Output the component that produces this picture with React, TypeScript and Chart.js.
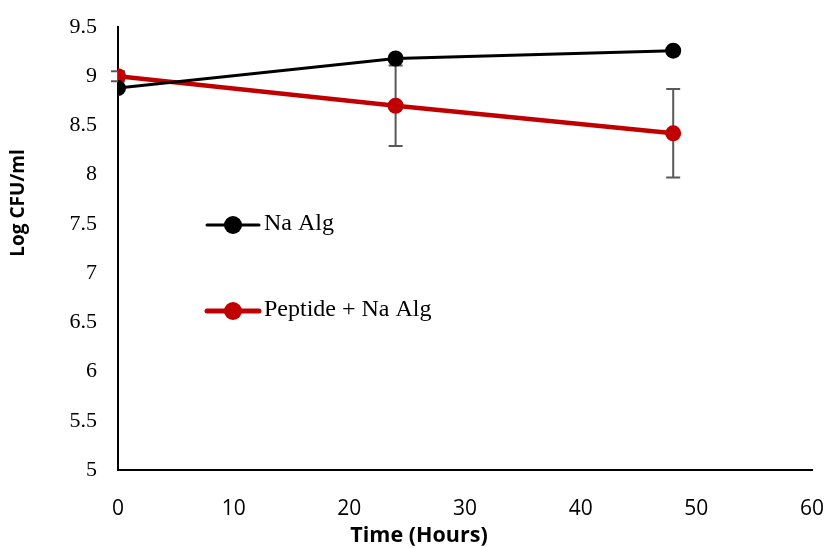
import React, { useEffect, useRef } from "react";
import { Chart, registerables } from "chart.js";

Chart.register(...registerables);

const hours = [0, 24, 48];
const naAlg = [8.88, 9.18, 9.26];
const naAlgErr = [0, 0, 0];
const peptide = [9.0, 8.7, 8.42];
const peptideErr = [0.05, 0.41, 0.45];
const seriesLabels = ["Na Alg", "Peptide + Na Alg"];
const seriesColors = ["#000000", "#C00000"];
const xTitle = "Time (Hours)";
const yTitle = "Log CFU/ml";

const SANS = "'Open Sans', 'Liberation Sans', sans-serif";
const SERIF = "'Liberation Serif', 'Times New Roman', serif";

const errorBarPlugin = {
  id: "errorBars",
  beforeDatasetsDraw(chart: any) {
    const ctx = chart.ctx;
    const xs = chart.scales.x;
    const ys = chart.scales.y;
    const errs = [naAlgErr, peptideErr];
    ctx.save();
    ctx.strokeStyle = "#595959";
    ctx.lineWidth = 2;
    chart.data.datasets.forEach((ds: any, i: number) => {
      ds.data.forEach((p: any, j: number) => {
        const e = errs[i][j];
        if (!e) return;
        const x = xs.getPixelForValue(p.x);
        const yt = ys.getPixelForValue(p.y + e);
        const yb = ys.getPixelForValue(p.y - e);
        ctx.beginPath();
        ctx.moveTo(x, yt);
        ctx.lineTo(x, yb);
        ctx.moveTo(x - 7, yt);
        ctx.lineTo(x + 7, yt);
        ctx.moveTo(x - 7, yb);
        ctx.lineTo(x + 7, yb);
        ctx.stroke();
      });
    });
    ctx.restore();
  },
};

const legendPlugin = {
  id: "innerLegend",
  afterDatasetsDraw(chart: any) {
    const ctx = chart.ctx;
    const area = chart.chartArea;
    const x0 = area.left + 89;
    const rows = [area.top + 198, area.top + 284];
    const widths = [3, 5];
    ctx.save();
    chart.data.datasets.forEach((ds: any, i: number) => {
      const y = rows[i];
      ctx.strokeStyle = ds.borderColor;
      ctx.lineWidth = widths[i];
      ctx.lineCap = "round";
      ctx.beginPath();
      ctx.moveTo(x0, y);
      ctx.lineTo(x0 + 52, y);
      ctx.stroke();
      ctx.fillStyle = ds.backgroundColor;
      ctx.beginPath();
      ctx.arc(x0 + 26, y, 9, 0, Math.PI * 2);
      ctx.fill();
      ctx.fillStyle = "#000";
      ctx.font = "24px " + SERIF;
      ctx.textBaseline = "middle";
      ctx.fillText(ds.label, x0 + 57, y - 1);
    });
    ctx.restore();
  },
};

const titlesPlugin = {
  id: "axisTitles",
  afterDraw(chart: any) {
    const ctx = chart.ctx;
    ctx.save();
    ctx.fillStyle = "#000";
    ctx.textAlign = "center";
    ctx.textBaseline = "middle";
    ctx.font = "bold 21.5px " + SANS;
    ctx.fillText(xTitle, 419, 536);
    ctx.translate(19, 203);
    ctx.rotate(-Math.PI / 2);
    ctx.font = "bold 19px " + SANS;
    ctx.fillText(yTitle, 0, 0);
    ctx.restore();
  },
};

export default function App() {
  const ref = useRef<HTMLCanvasElement>(null);
  useEffect(() => {
    document.body.style.margin = "0";
    const chart = new Chart(ref.current!, {
      type: "line",
      data: {
        datasets: [
          {
            label: seriesLabels[0],
            data: hours.map((h, i) => ({ x: h, y: naAlg[i] })),
            borderColor: seriesColors[0],
            backgroundColor: seriesColors[0],
            borderWidth: 3,
            pointRadius: 8,
            pointHoverRadius: 8,
            pointBorderWidth: 0,
          },
          {
            label: seriesLabels[1],
            data: hours.map((h, i) => ({ x: h, y: peptide[i] })),
            borderColor: seriesColors[1],
            backgroundColor: seriesColors[1],
            borderWidth: 4.5,
            pointRadius: 8,
            pointHoverRadius: 8,
            pointBorderWidth: 0,
          },
        ],
      },
      options: {
        animation: false,
        responsive: false,
        maintainAspectRatio: false,
        layout: { padding: { top: 27, right: 16, left: 0, bottom: 0 } },
        plugins: { legend: { display: false }, tooltip: { enabled: false } },
        scales: {
          x: {
            type: "linear",
            min: 0,
            max: 60,
            ticks: {
              stepSize: 10,
              color: "#000",
              padding: 26,
              font: { family: SANS, size: 21 },
            },
            grid: { display: false, drawTicks: false },
            border: { display: true, color: "#000", width: 2 },
            afterFit(scale: any) {
              scale.height = 78;
              scale.paddingLeft = 0;
              scale.paddingRight = 0;
            },
          },
          y: {
            type: "linear",
            min: 5,
            max: 9.5,
            ticks: {
              stepSize: 0.5,
              color: "#000",
              padding: 21,
              font: { family: SERIF, size: 22 },
              callback: (v: any) => String(v),
            },
            grid: { display: false, drawTicks: false },
            border: { display: true, color: "#000", width: 2 },
            afterFit(scale: any) {
              scale.width = 118;
              scale.paddingTop = 0;
              scale.paddingBottom = 0;
            },
          },
        },
      },
      plugins: [errorBarPlugin, legendPlugin, titlesPlugin],
    });
    return () => chart.destroy();
  }, []);
  return (
    <div style={{ width: 828, height: 548, background: "#fff" }}>
      <canvas ref={ref} width={828} height={548} style={{ display: "block" }} />
    </div>
  );
}
